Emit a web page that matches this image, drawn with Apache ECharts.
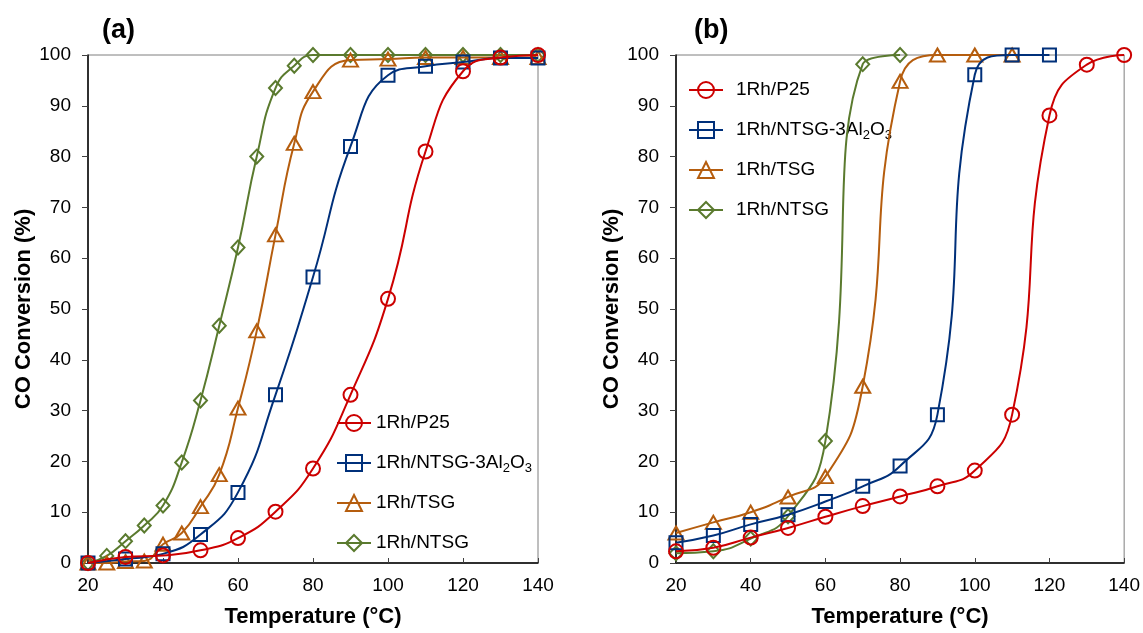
<!DOCTYPE html>
<html>
<head>
<meta charset="utf-8">
<script src="https://cdn.jsdelivr.net/npm/echarts@6/dist/echarts.min.js"></script>
<style>
  html, body { margin: 0; padding: 0; background: #fff; }
  #chart { width: 1143px; height: 633px; }
</style>
</head>
<body>
<div id="chart"></div>
<script>
// ---- data ----
const seriesNames = ['1Rh/P25', '1Rh/NTSG-3Al2O3', '1Rh/TSG', '1Rh/NTSG']
const xTicks = [20, 40, 60, 80, 100, 120, 140]
const yTicks = [0, 10, 20, 30, 40, 50, 60, 70, 80, 90, 100]

// panel (a)
const tempA = [20, 30, 40, 50, 60, 70, 80, 90, 100, 110, 120, 130, 140]
const tempAFine = [20, 25, 30, 35, 40, 45, 50, 55, 60, 65, 70, 75, 80, 90, 100, 110, 120, 130, 140]
const p25A = [0, 1.2, 1.5, 2.5, 4.9, 10.1, 18.6, 33.1, 52, 81, 96.8, 99.5, 100]
const ntsgAlA = [0, 0.8, 1.8, 5.6, 13.9, 33.1, 56.3, 82, 96, 97.8, 98.6, 99.4, 99.4]
const tsgA = [0, 0, 0.3, 0.4, 3.7, 5.9, 11.1, 17.4, 30.5, 45.7, 64.6, 82.6, 92.8, 99, 99.2, 99.5, 99.5, 99.5, 99.5]
const ntsgA = [0, 1.4, 4.3, 7.4, 11.3, 19.8, 32, 46.7, 62.1, 80, 93.5, 97.9, 100, 100, 100, 100, 100, 100, 100]

// panel (b)
const tempB = [20, 30, 40, 50, 60, 70, 80, 90, 100, 110, 120, 130, 140]
const p25B = [2.3, 3.0, 5.0, 6.9, 9.1, 11.2, 13.1, 15.1, 18.2, 29.2, 88.1, 98.1, 100]
const ntsgAlB = [4.0, 5.4, 7.6, 9.5, 12.1, 15.1, 19.1, 29.2, 96.1, 100, 100]
const tsgB = [5.9, 8.0, 10.0, 13.0, 17.0, 34.8, 94.8, 100, 100, 100]
const ntsgB = [1.9, 2.3, 4.8, 9.2, 24.0, 98.2, 100]

const colors = ['#CC0000', '#00307A', '#B55D0E', '#5A7A2E']
const symbols = ['circle', 'rect', 'triangle', 'diamond']
const symbolSizes = [14, 13, [15, 13], [13, 14]]

const font = "'Liberation Sans', Arial, sans-serif"

const pairs = (xs, ys) => ys.map((y, i) => [xs[i], y])

const makeSeries = (idx, gridIndex, xs, ys) => {
  return {
    type: 'line',
    name: seriesNames[idx],
    xAxisIndex: gridIndex,
    yAxisIndex: gridIndex,
    smooth: 0.5,
    symbol: symbols[idx],
    symbolSize: symbolSizes[idx],
    lineStyle: { color: colors[idx], width: 2 },
    itemStyle: { color: 'rgba(255,255,255,0)', borderColor: colors[idx], borderWidth: 2 },
    emphasis: { disabled: true },
    z: 10 - idx,
    data: pairs(xs, ys),
  }
}

const makeXAxis = (gridIndex) => ({
  type: 'value',
  gridIndex,
  min: xTicks[0],
  max: xTicks[xTicks.length - 1],
  interval: xTicks[1] - xTicks[0],
  splitLine: { show: false },
  axisLine: { lineStyle: { color: '#000', width: 1.5 } },
  axisTick: { inside: true, length: 5, lineStyle: { color: '#404040' } },
  axisLabel: { color: '#000', fontSize: 19, fontFamily: font, margin: 13 },
  name: 'Temperature (°C)',
  nameLocation: 'middle',
  nameGap: 43,
  nameTextStyle: { color: '#000', fontSize: 22, fontWeight: 'bold', fontFamily: font },
})

const makeYAxis = (gridIndex) => ({
  type: 'value',
  gridIndex,
  min: yTicks[0],
  max: yTicks[yTicks.length - 1],
  interval: yTicks[1] - yTicks[0],
  splitLine: { show: false },
  axisLine: { show: true, lineStyle: { color: '#000', width: 1.5 } },
  axisTick: { show: true, length: 6, lineStyle: { color: '#404040' } },
  axisLabel: { color: '#000', fontSize: 19, fontFamily: font, margin: 17 },
  name: 'CO Conversion (%)',
  nameLocation: 'middle',
  nameGap: 46,
  nameTextStyle: { color: '#000', fontSize: 22, fontWeight: 'bold', fontFamily: font },
})

const legendText = (name) => name.replace('Al2O3', 'Al{sub|2}O{sub|3}')

const makeLegend = (left, top, textPad) => ({
  orient: 'vertical',
  left,
  top,
  padding: 0,
  itemWidth: 34,
  itemHeight: 20,
  itemGap: 16,
  selectedMode: false,
  data: seriesNames,
  formatter: legendText,
  textStyle: {
    color: '#000',
    fontSize: 19,
    fontFamily: font,
    lineHeight: 24,
    padding: [0, 0, 0, textPad],
    rich: {
      sub: { fontSize: 13, lineHeight: 13, verticalAlign: 'bottom', fontFamily: font, color: '#000' },
    },
  },
})

const chart = echarts.init(document.getElementById('chart'))

const option = {
  animation: false,
  backgroundColor: '#fff',
  title: [
    { text: '(a)', left: 97, top: 12, textStyle: { fontSize: 27, fontWeight: 'bold', fontFamily: font, color: '#000' } },
    { text: '(b)', left: 689, top: 12, textStyle: { fontSize: 27, fontWeight: 'bold', fontFamily: font, color: '#000' } },
  ],
  grid: [
    { left: 88, top: 55, width: 450, height: 512, show: true, borderColor: '#7f7f7f', borderWidth: 1 },
    { left: 676, top: 55, width: 450, height: 512, show: true, borderColor: '#7f7f7f', borderWidth: 1 },
  ],
  xAxis: [makeXAxis(0), makeXAxis(1)],
  yAxis: [makeYAxis(0), makeYAxis(1)],
  legend: [makeLegend(336, 411, 0), makeLegend(688, 78, 8)],
  series: [
    makeSeries(0, 0, tempA, p25A),
    makeSeries(1, 0, tempA, ntsgAlA),
    makeSeries(2, 0, tempAFine, tsgA),
    makeSeries(3, 0, tempAFine, ntsgA),
    makeSeries(0, 1, tempB, p25B),
    makeSeries(1, 1, tempB, ntsgAlB),
    makeSeries(2, 1, tempB, tsgB),
    makeSeries(3, 1, tempB, ntsgB),
  ],
}

chart.setOption(option)
</script>
</body>
</html>
